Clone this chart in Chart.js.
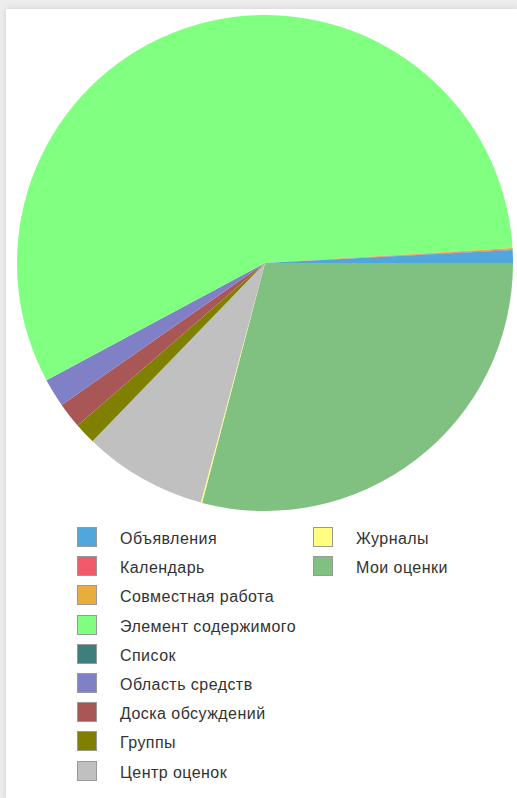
<!DOCTYPE html>
<html>
<head>
<meta charset="utf-8">
<script src="https://cdn.jsdelivr.net/npm/chart.js@4/dist/chart.umd.min.js"></script>
<style>
    html, body {
        margin: 0;
        padding: 0;
        width: 517px;
        height: 798px;
        overflow: hidden;
        background: #ededed;
    }
    .panel {
        position: absolute;
        left: 6px;
        top: 9px;
        width: 511px;
        height: 789px;
        background: #fff;
        box-shadow: 0 0 6px rgba(0, 0, 0, 0.12);
    }
    .chart-box {
        position: absolute;
        left: 17px;
        top: 15px;
        width: 496px;
        height: 496px;
    }
    .legend {
        position: absolute;
        left: 77px;
        top: 527px;
        display: grid;
        grid-auto-flow: column;
        grid-template-rows: repeat(9, 29.2px);
        grid-template-columns: 236px 200px;
        font-family: 'Liberation Sans', Arial, sans-serif;
        font-size: 16px;
        letter-spacing: 0.45px;
        color: #333;
    }
    .legend-item {
        display: flex;
        align-items: center;
        height: 20px;
    }
    .legend-label {
        position: relative;
        top: 2px;
    }
    .legend-swatch {
        width: 18px;
        height: 18px;
        border: 1px solid #999;
        margin-right: 23px;
        flex: none;
    }
</style>
</head>
<body>
<div class="panel"></div>
<div class="chart-box"><canvas id="pieChart"></canvas></div>
<div class="legend" id="legend"></div>

<script>
// Categories in legend order (drawn counter-clockwise from 3 o'clock)
const categories = [
    'Объявления',
    'Календарь',
    'Совместная работа',
    'Элемент содержимого',
    'Список',
    'Область средств',
    'Доска обсуждений',
    'Группы',
    'Центр оценок',
    'Журналы',
    'Мои оценки'
];

// Share of each category, percent
const shares = [0.83, 0.06, 0.08, 56.86, 0, 1.86, 1.67, 1.39, 8.08, 0.08, 29.08];

const colors = [
    '#4fa7dc',
    '#f25a6c',
    '#e9ad3d',
    '#80ff80',
    '#3f7f7b',
    '#8080c6',
    '#a85656',
    '#808000',
    '#c0c0c0',
    '#ffff80',
    '#80c080'
];

/**
 * Build the two-column legend
 */
function buildLegend() {
    const legend = document.getElementById('legend');
    categories.forEach((name, i) => {
        const item = document.createElement('div');
        item.className = 'legend-item';
        const swatch = document.createElement('span');
        swatch.className = 'legend-swatch';
        swatch.style.background = colors[i];
        const label = document.createElement('span');
        label.className = 'legend-label';
        label.textContent = name;
        item.appendChild(swatch);
        item.appendChild(label);
        legend.appendChild(item);
    });
}

// Chart.js goes clockwise, the original goes the other way: feed it reversed
const ctx = document.getElementById('pieChart').getContext('2d');
new Chart(ctx, {
    type: 'pie',
    data: {
        labels: categories.slice().reverse(),
        datasets: [{
            data: shares.slice().reverse(),
            backgroundColor: colors.slice().reverse(),
            borderWidth: 0
        }]
    },
    options: {
        responsive: true,
        maintainAspectRatio: false,
        animation: false,
        rotation: 90,
        layout: { padding: 0 },
        plugins: {
            legend: { display: false },
            tooltip: { enabled: false }
        }
    }
});

buildLegend();
</script>
</body>
</html>
